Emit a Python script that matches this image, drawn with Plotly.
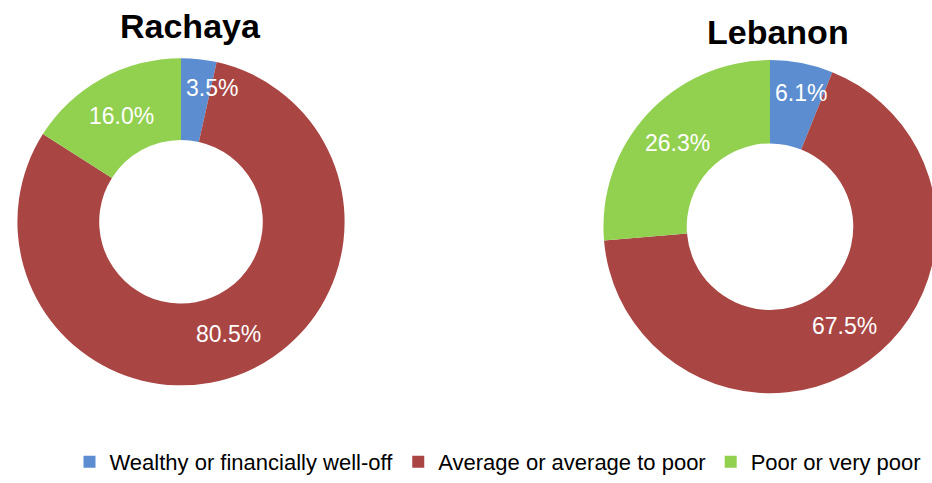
import math
import plotly.graph_objects as go

categories = ["Wealthy or financially well-off", "Average or average to poor", "Poor or very poor"]
rachaya_values = [3.5, 80.5, 16.0]
lebanon_values = [6.1, 67.5, 26.3]
titles = ["Rachaya", "Lebanon"]
colors = ["#5B8DD0", "#A94543", "#92D050"]

W, H = 940, 483  # slightly wider than the window so the right donut is cropped like the reference
FONT = "Liberation Sans, Arial, sans-serif"

# pie geometry in screen pixels (center x, center y from top, domain half-size)
geoms = [(181, 225, 166), (770, 230, 169)]


def px_x(x):
    return x / W


def px_y(y):
    return 1 - y / H


fig = go.Figure()
annotations = []
for vals, (cx, cy, r) in zip([rachaya_values, lebanon_values], geoms):
    dom_x = [max(0.0, px_x(cx - r)), min(1.0, px_x(cx + r))]
    dom_y = [px_y(cy + r), px_y(cy - r)]
    fig.add_trace(go.Pie(
        labels=categories, values=vals, sort=False, direction="clockwise", rotation=0,
        hole=0.5, marker=dict(colors=colors, line=dict(width=0)),
        textinfo="none", hoverinfo="label+percent", domain=dict(x=dom_x, y=dom_y),
    ))
    total = sum(vals)
    cum = 0.0
    for v in vals:
        frac = v / total
        mid = (cum + v / 2) / total * 2 * math.pi
        cum += v
        if frac < 0.1:
            # small slice: label sits near the outer edge, starting at the slice boundary
            rr = 0.82 * r
            sx = cx + 3
            anchor = "left"
        else:
            rr = 0.74 * r
            sx = cx + rr * math.sin(mid)
            anchor = "center"
        sy = cy - rr * math.cos(mid)
        annotations.append(dict(
            x=px_x(sx), y=px_y(sy), xref="paper", yref="paper", showarrow=False,
            text=f"{v:.1f}%", font=dict(family=FONT, size=23, color="white"),
            xanchor=anchor, yanchor="middle",
        ))

title_pos = [(190, 26), (778, 32)]
for t, (tx, ty) in zip(titles, title_pos):
    annotations.append(dict(x=px_x(tx), y=px_y(ty), xref="paper", yref="paper", showarrow=False,
                            text=f"<b>{t}</b>", font=dict(family=FONT, size=34, color="black"),
                            xanchor="center", yanchor="middle"))

fig.update_layout(
    width=W, height=H, margin=dict(l=0, r=0, t=0, b=0),
    paper_bgcolor="white", plot_bgcolor="white",
    annotations=annotations,
    showlegend=True,
    legend=dict(orientation="h", x=px_x(498), xanchor="center", y=px_y(469), yanchor="middle",
                font=dict(family=FONT, size=22, color="black"),
                bgcolor="rgba(0,0,0,0)"),
)

fig.write_html(
    "out.html",
    config={"displayModeBar": False},
    post_script="document.body.style.margin='0';document.body.style.overflow='hidden';",
)
